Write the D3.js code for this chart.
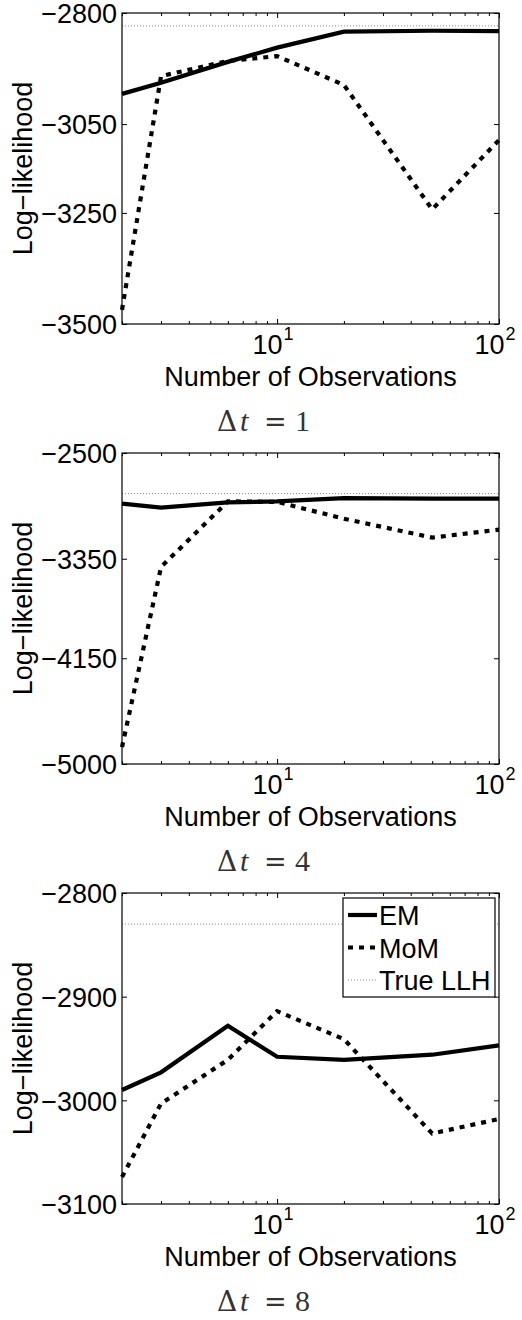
<!DOCTYPE html>
<html>
<head>
<meta charset="utf-8">
<script src="https://cdn.jsdelivr.net/npm/d3@7"></script>
<style>
  html, body { margin: 0; padding: 0; background: #fff; }
  svg { display: block; }
  text { font-family: "Liberation Sans", Arial, sans-serif; }
</style>
</head>
<body>
<svg id="chart" width="522" height="1320"></svg>
<script>
// ---- data ----
const observations = [2, 3, 6, 10, 20, 50, 100];
const deltaT = ["1", "4", "8"];

const emDt1  = [-2982, -2957, -2910, -2878, -2842, -2840, -2841];
const momDt1 = [-3468, -2942, -2908, -2897, -2962, -3242, -3086];
const trueDt1 = -2829;

const emDt4  = [-2907, -2939, -2897, -2889, -2862, -2867, -2867];
const momDt4 = [-4864, -3416, -2889, -2893, -3028, -3180, -3116];
const trueDt4 = -2827;

const emDt8  = [-2990, -2973, -2928, -2958, -2961, -2956, -2947];
const momDt8 = [-3074, -3003, -2961, -2914, -2941, -3032, -3018];
const trueDt8 = -2830;

const yTicksDt1 = [-3500, -3250, -3050, -2800];
const yTicksDt4 = [-5000, -4150, -3350, -2500];
const yTicksDt8 = [-3100, -3000, -2900, -2800];

const xMajorTicks = [10, 100];
const xTickExponents = ["1", "2"];
const xMinorTicks = [2,3,4,5,6,7,8,9,20,30,40,50,60,70,80,90];

const legendLabels = ["EM", "MoM", "True LLH"];
const xLabel = "Number of Observations";
const yLabel = "Log\u2212likelihood";

// ---- layout ----
const panels = [
  { em: emDt1, mom: momDt1, tru: trueDt1, ticks: yTicksDt1, dt: deltaT[0], legend: false },
  { em: emDt4, mom: momDt4, tru: trueDt4, ticks: yTicksDt4, dt: deltaT[1], legend: false },
  { em: emDt8, mom: momDt8, tru: trueDt8, ticks: yTicksDt8, dt: deltaT[2], legend: true }
];

const svg = d3.select("#chart");
const mLeft = 122, mRight = 499, mTop = 13, mBottom = 324, panelH = 440;
const fs = 27;

const styles = {
  em:  { stroke: "#000", width: 4.2, dash: null },
  mom: { stroke: "#000", width: 4.2, dash: "5,6" },
  tru: { stroke: "#888", width: 1, dash: "1,2" }
};

panels.forEach((p, i) => {
  const g = svg.append("g").attr("transform", `translate(0,${i * panelH})`);
  const x = d3.scaleLog().domain([2, 100]).range([mLeft, mRight]);
  const y = d3.scaleLinear().domain([p.ticks[0], p.ticks[p.ticks.length - 1]]).range([mBottom, mTop]);

  // true LLH
  g.append("line")
    .attr("x1", x(2)).attr("x2", x(100))
    .attr("y1", y(p.tru)).attr("y2", y(p.tru))
    .attr("stroke", styles.tru.stroke).attr("stroke-width", styles.tru.width)
    .attr("stroke-dasharray", styles.tru.dash);

  const line = d3.line().x((d, j) => x(observations[j])).y(d => y(d));

  g.append("path").datum(p.mom).attr("d", line)
    .attr("fill", "none").attr("stroke", styles.mom.stroke)
    .attr("stroke-width", styles.mom.width).attr("stroke-dasharray", styles.mom.dash);

  g.append("path").datum(p.em).attr("d", line)
    .attr("fill", "none").attr("stroke", styles.em.stroke)
    .attr("stroke-width", styles.em.width).attr("stroke-linejoin", "miter");

  // axes (ticks inside)
  const yl = g.append("g").attr("transform", `translate(${mLeft},0)`)
    .call(d3.axisLeft(y).tickValues(p.ticks).tickSizeInner(-5).tickSizeOuter(0).tickPadding(5)
      .tickFormat(d => d3.format("d")(d).replace("-", "\u2212")));
  yl.select(".domain").remove();
  yl.selectAll("text").attr("font-size", fs).attr("fill", "#000")
    .attr("dy", "0.36em");
  yl.selectAll("line").attr("stroke", "#000");

  const yr = g.append("g").attr("transform", `translate(${mRight},0)`)
    .call(d3.axisRight(y).tickValues(p.ticks).tickSizeInner(-5).tickSizeOuter(0).tickFormat(""));
  yr.select(".domain").remove();

  [[mBottom, d3.axisBottom], [mTop, d3.axisTop]].forEach(([yy, ax]) => {
    const a1 = g.append("g").attr("transform", `translate(0,${yy})`)
      .call(ax(x).tickValues(xMajorTicks).tickSizeInner(-5).tickSizeOuter(0).tickFormat(""));
    a1.select(".domain").remove();
    const a2 = g.append("g").attr("transform", `translate(0,${yy})`)
      .call(ax(x).tickValues(xMinorTicks).tickSizeInner(-3).tickSizeOuter(0).tickFormat(""));
    a2.select(".domain").remove();
  });

  // frame
  g.append("rect").attr("x", mLeft).attr("y", mTop)
    .attr("width", mRight - mLeft).attr("height", mBottom - mTop)
    .attr("fill", "none").attr("stroke", "#000").attr("stroke-width", 1.2);

  // x tick labels 10^n
  xMajorTicks.forEach((t, k) => {
    const tx = g.append("text").attr("x", x(t) - 4).attr("y", 354)
      .attr("text-anchor", "middle").attr("font-size", fs);
    tx.append("tspan").text("10");
    tx.append("tspan").attr("dy", -14).attr("dx", 1).attr("font-size", 18).text(xTickExponents[k]);
  });

  // axis labels
  g.append("text").attr("x", (mLeft + mRight) / 2).attr("y", 386)
    .attr("text-anchor", "middle").attr("font-size", fs).text(xLabel);
  g.append("text").attr("transform", `translate(32,${(mTop + mBottom) / 2}) rotate(-90)`)
    .attr("text-anchor", "middle").attr("font-size", fs).text(yLabel);

  // subtitle (LaTeX-like math)
  const st = g.append("text").attr("y", 431)
    .style("font-family", "'DejaVu Serif', 'Liberation Serif', serif")
    .attr("font-size", 25).attr("fill", "#333");
  st.append("tspan").attr("x", 217).style("font-size", "28px").text("\u0394");
  st.append("tspan").attr("x", 240).style("font-style", "italic")
    .style("font-family", "'Liberation Serif', serif").style("font-size", "30px").text("t");
  st.append("tspan").attr("x", 264).style("font-size", "27px").text("=");
  st.append("tspan").attr("x", 295).style("font-family", "'Liberation Serif', serif")
    .style("font-size", "30px").text(p.dt);

  // legend
  if (p.legend) {
    const lg = g.append("g");
    lg.append("rect").attr("x", 343).attr("y", 18).attr("width", 152).attr("height", 99)
      .attr("fill", "#fff").attr("stroke", "#000").attr("stroke-width", 1.2);
    const keys = ["em", "mom", "tru"];
    keys.forEach((k, j) => {
      const ly = 35 + j * 32.5;
      lg.append("line").attr("x1", 348).attr("x2", 377).attr("y1", ly).attr("y2", ly)
        .attr("stroke", styles[k].stroke).attr("stroke-width", styles[k].width)
        .attr("stroke-dasharray", styles[k].dash);
      lg.append("text").attr("x", 379).attr("y", ly + 10).attr("font-size", fs)
        .text(legendLabels[j]);
    });
  }
});
</script>
</body>
</html>
